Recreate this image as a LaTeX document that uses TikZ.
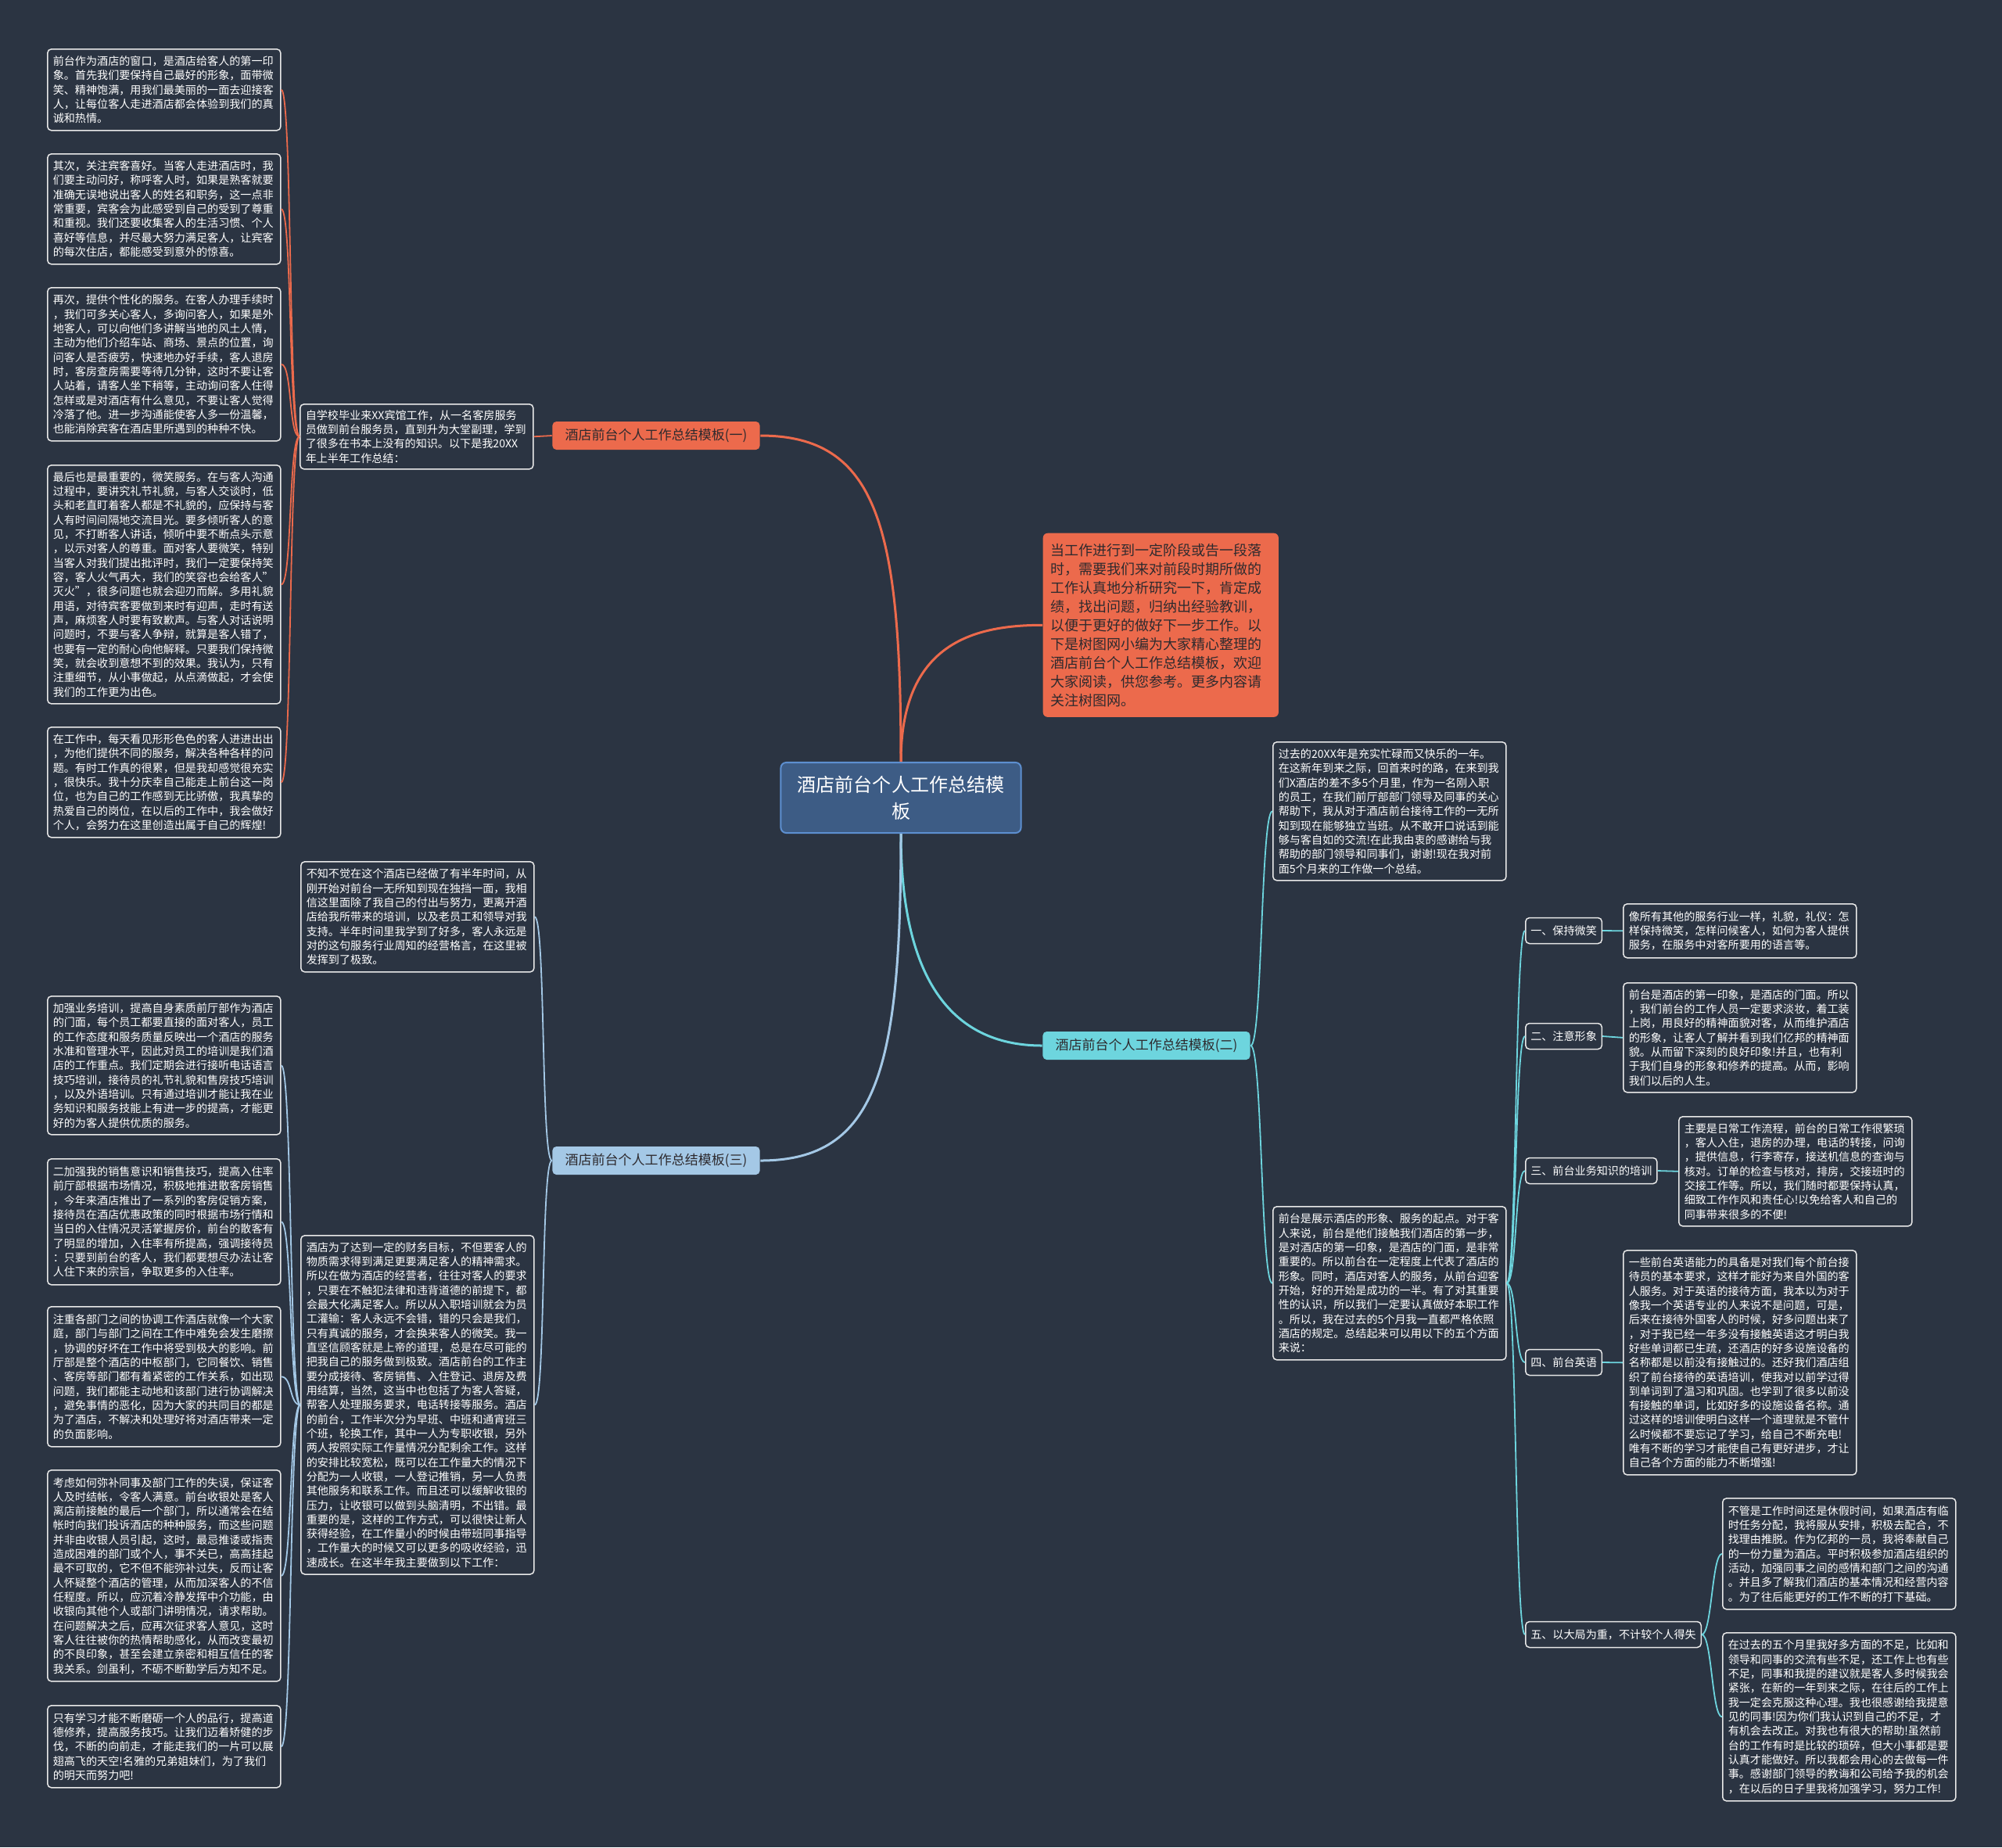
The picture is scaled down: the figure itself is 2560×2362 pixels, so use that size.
\documentclass[tikz,border=0pt]{standalone}
\usepackage{fontspec}
\setmainfont{Noto Sans CJK SC}
\definecolor{bg}{HTML}{2B3442}
\definecolor{orangeC}{HTML}{EC6A4C}
\definecolor{cyanC}{HTML}{6DD5DE}
\definecolor{blueC}{HTML}{A4C8E6}
\definecolor{ctrfill}{HTML}{3D5C85}
\definecolor{ctrdraw}{HTML}{5D8FD0}
\definecolor{darktext}{HTML}{2E2A2E}
\definecolor{leafdraw}{HTML}{E8E8E8}
\newcommand\leaffont{\fontsize{4.01pt}{5.21pt}\selectfont}
\newcommand\introfont{\fontsize{5.12pt}{6.83pt}\selectfont}
\newcommand\labfont{\fontsize{4.84pt}{5.8pt}\selectfont}
\newcommand\ctrfont{\fontsize{6.83pt}{9.67pt}\selectfont}
\tikzset{
  leaf/.style={draw=leafdraw, line width=0.15mm, rounded corners=0.05cm, fill=bg, text=white,
    font=\leaffont, align=left, text width=2.84cm, inner xsep=0.07cm, inner ysep=0pt, anchor=north west},
  sublab/.style={draw=leafdraw, line width=0.15mm, rounded corners=0.05cm, fill=bg, text=white,
    font=\leaffont, inner xsep=0.065cm, inner ysep=0pt, minimum height=0.33cm, anchor=west},
  branch/.style={rounded corners=0.05cm, text=darktext, font=\labfont, minimum width=2.65cm,
    minimum height=0.36cm, inner sep=0pt},
  conO/.style={draw=orangeC, line width=0.18mm},
  conC/.style={draw=cyanC, line width=0.18mm},
  conB/.style={draw=blueC, line width=0.18mm},
}
\begin{document}
\begin{tikzpicture}[x=0.01cm,y=-0.01cm]
\fill[bg] (0,0) rectangle (2560,2362);
\useasboundingbox (0,0) rectangle (2560,2362);

% center
\node[draw=ctrdraw, line width=0.2mm, fill=ctrfill, rounded corners=0.07cm, text=white, font=\ctrfont,
  align=center, text width=2.8cm, minimum width=3.07cm, minimum height=0.9cm, inner sep=0pt] (ctr) at (1152,1020)
  {酒店前台个人工作总结模\\板};

% intro
\node[fill=orangeC, rounded corners=0.06cm, text=darktext, font=\introfont, align=left, text width=2.81cm,
  inner xsep=0.1cm, inner ysep=0pt, minimum height=2.35cm, anchor=north west] (intro) at (1333,681)
  {当工作进行到一定阶段或告一段落\\时，需要我们来对前段时期所做的\\工作认真地分析研究一下，肯定成\\绩，找出问题，归纳出经验教训，\\以便于更好的做好下一步工作。以\\下是树图网小编为大家精心整理的\\酒店前台个人工作总结模板，欢迎\\大家阅读，供您参考。更多内容请\\关注树图网。};

% branch labels
\node[branch, fill=orangeC] (b1) at (839,557) {酒店前台个人工作总结模板(一)};
\node[branch, fill=cyanC] (b2) at (1466,1337) {酒店前台个人工作总结模板(二)};
\node[branch, fill=blueC] (b3) at (839,1484) {酒店前台个人工作总结模板(三)};

% branch 1
\node[leaf, minimum height=0.83cm] (ai) at (383,516)
  {自学校毕业来XX宾馆工作，从一名客房服务\\员做到前台服务员，直到升为大堂副理，学到\\了很多在书本上没有的知识。以下是我20XX\\年上半年工作总结：};
\node[leaf, minimum height=1.04cm] (a1) at (60,62)
  {前台作为酒店的窗口，是酒店给客人的第一印\\象。首先我们要保持自己最好的形象，面带微\\笑、精神饱满，用我们最美丽的一面去迎接客\\人，让每位客人走进酒店都会体验到我们的真\\诚和热情。};
\node[leaf, minimum height=1.41cm] (a2) at (60,196)
  {其次，关注宾客喜好。当客人走进酒店时，我\\们要主动问好，称呼客人时，如果是熟客就要\\准确无误地说出客人的姓名和职务，这一点非\\常重要，宾客会为此感受到自己的受到了尊重\\和重视。我们还要收集客人的生活习惯、个人\\喜好等信息，并尽最大努力满足客人，让宾客\\的每次住店，都能感受到意外的惊喜。};
\node[leaf, minimum height=1.96cm] (a3) at (60,367)
  {再次，提供个性化的服务。在客人办理手续时\\，我们可多关心客人，多询问客人，如果是外\\地客人，可以向他们多讲解当地的风土人情，\\主动为他们介绍车站、商场、景点的位置，询\\问客人是否疲劳，快速地办好手续，客人退房\\时，客房查房需要等待几分钟，这时不要让客\\人站着，请客人坐下稍等，主动询问客人住得\\怎样或是对酒店有什么意见，不要让客人觉得\\冷落了他。进一步沟通能使客人多一份温馨，\\也能消除宾客在酒店里所遇到的种种不快。};
\node[leaf, minimum height=3.05cm] (a4) at (60,594)
  {最后也是最重要的，微笑服务。在与客人沟通\\过程中，要讲究礼节礼貌，与客人交谈时，低\\头和老直盯着客人都是不礼貌的，应保持与客\\人有时间间隔地交流目光。要多倾听客人的意\\见，不打断客人讲话，倾听中要不断点头示意\\，以示对客人的尊重。面对客人要微笑，特别\\当客人对我们提出批评时，我们一定要保持笑\\容，客人火气再大，我们的笑容也会给客人"\\灭火"，很多问题也就会迎刃而解。多用礼貌\\用语，对待宾客要做到来时有迎声，走时有送\\声，麻烦客人时要有致歉声。与客人对话说明\\问题时，不要与客人争辩，就算是客人错了，\\也要有一定的耐心向他解释。只要我们保持微\\笑，就会收到意想不到的效果。我认为，只有\\注重细节，从小事做起，从点滴做起，才会使\\我们的工作更为出色。};
\node[leaf, minimum height=1.41cm] (a5) at (60,929)
  {在工作中，每天看见形形色色的客人进进出出\\，为他们提供不同的服务，解决各种各样的问\\题。有时工作真的很累，但是我却感觉很充实\\，很快乐。我十分庆幸自己能走上前台这一岗\\位，也为自己的工作感到无比骄傲，我真挚的\\热爱自己的岗位，在以后的工作中，我会做好\\个人，会努力在这里创造出属于自己的辉煌!};

% branch 3
\node[leaf, minimum height=1.41cm] (ci) at (384,1101)
  {不知不觉在这个酒店已经做了有半年时间，从\\刚开始对前台一无所知到现在独挡一面，我相\\信这里面除了我自己的付出与努力，更离开酒\\店给我所带来的培训，以及老员工和领导对我\\支持。半年时间里我学到了好多，客人永远是\\对的这句服务行业周知的经营格言，在这里被\\发挥到了极致。};
\node[leaf, minimum height=4.33cm] (cm) at (384,1579)
  {酒店为了达到一定的财务目标，不但要客人的\\物质需求得到满足更要满足客人的精神需求。\\所以在做为酒店的经营者，往往对客人的要求\\，只要在不触犯法律和违背道德的前提下，都\\会最大化满足客人。所以从入职培训就会为员\\工灌输：客人永远不会错，错的只会是我们，\\只有真诚的服务，才会换来客人的微笑。我一\\直坚信顾客就是上帝的道理，总是在尽可能的\\把我自己的服务做到极致。酒店前台的工作主\\要分成接待、客房销售、入住登记、退房及费\\用结算，当然，这当中也包括了为客人答疑，\\帮客人处理服务要求，电话转接等服务。酒店\\的前台，工作半次分为早班、中班和通宵班三\\个班，轮换工作，其中一人为专职收银，另外\\两人按照实际工作量情况分配剩余工作。这样\\的安排比较宽松，既可以在工作量大的情况下\\分配为一人收银，一人登记推销，另一人负责\\其他服务和联系工作。而且还可以缓解收银的\\压力，让收银可以做到头脑清明，不出错。最\\重要的是，这样的工作方式，可以很快让新人\\获得经验，在工作量小的时候由带班同事指导\\，工作量大的时候又可以更多的吸收经验，迅\\速成长。在这半年我主要做到以下工作：};
\node[leaf, minimum height=1.77cm] (c1) at (60,1273)
  {加强业务培训，提高自身素质前厅部作为酒店\\的门面，每个员工都要直接的面对客人，员工\\的工作态度和服务质量反映出一个酒店的服务\\水准和管理水平，因此对员工的培训是我们酒\\店的工作重点。我们定期会进行接听电话语言\\技巧培训，接待员的礼节礼貌和售房技巧培训\\，以及外语培训。只有通过培训才能让我在业\\务知识和服务技能上有进一步的提高，才能更\\好的为客人提供优质的服务。};
\node[leaf, minimum height=1.61cm] (c2) at (60,1481)
  {二加强我的销售意识和销售技巧，提高入住率\\前厅部根据市场情况，积极地推进散客房销售\\，今年来酒店推出了一系列的客房促销方案，\\接待员在酒店优惠政策的同时根据市场行情和\\当日的入住情况灵活掌握房价，前台的散客有\\了明显的增加，入住率有所提高，强调接待员\\：只要到前台的客人，我们都要想尽办法让客\\人住下来的宗旨，争取更多的入住率。};
\node[leaf, minimum height=1.79cm] (c3) at (60,1670)
  {注重各部门之间的协调工作酒店就像一个大家\\庭，部门与部门之间在工作中难免会发生磨擦\\，协调的好坏在工作中将受到极大的影响。前\\厅部是整个酒店的中枢部门，它同餐饮、销售\\、客房等部门都有着紧密的工作关系，如出现\\问题，我们都能主动地和该部门进行协调解决\\，避免事情的恶化，因为大家的共同目的都是\\为了酒店，不解决和处理好将对酒店带来一定\\的负面影响。};
\node[leaf, minimum height=2.70cm] (c4) at (60,1879)
  {考虑如何弥补同事及部门工作的失误，保证客\\人及时结帐，令客人满意。前台收银处是客人\\离店前接触的最后一个部门，所以通常会在结\\帐时向我们投诉酒店的种种服务，而这些问题\\并非由收银人员引起，这时，最忌推诿或指责\\造成困难的部门或个人，事不关已，高高挂起\\最不可取的，它不但不能弥补过失，反而让客\\人怀疑整个酒店的管理，从而加深客人的不信\\任程度。所以，应沉着冷静发挥中介功能，由\\收银向其他个人或部门讲明情况，请求帮助。\\在问题解决之后，应再次征求客人意见，这时\\客人往往被你的热情帮助感化，从而改变最初\\的不良印象，甚至会建立亲密和相互信任的客\\我关系。剑虽利，不砺不断勤学后方知不足。};
\node[leaf, minimum height=1.05cm] (c5) at (60,2180)
  {只有学习才能不断磨砺一个人的品行，提高道\\德修养，提高服务技巧。让我们迈着矫健的步\\伐，不断的向前走，才能走我们的一片可以展\\翅高飞的天空!名雅的兄弟姐妹们，为了我们\\的明天而努力吧!};

% branch 2
\node[leaf, minimum height=1.77cm] (bi) at (1627,948)
  {过去的20XX年是充实忙碌而又快乐的一年。\\在这新年到来之际，回首来时的路，在来到我\\们X酒店的差不多5个月里，作为一名刚入职\\的员工，在我们前厅部部门领导及同事的关心\\帮助下，我从对于酒店前台接待工作的一无所\\知到现在能够独立当班。从不敢开口说话到能\\够与客自如的交流!在此我由衷的感谢给与我\\帮助的部门领导和同事们，谢谢!现在我对前\\面5个月来的工作做一个总结。};
\node[leaf, minimum height=1.96cm] (bm) at (1627,1542)
  {前台是展示酒店的形象、服务的起点。对于客\\人来说，前台是他们接触我们酒店的第一步，\\是对酒店的第一印象，是酒店的门面，是非常\\重要的。所以前台在一定程度上代表了酒店的\\形象。同时，酒店对客人的服务，从前台迎客\\开始，好的开始是成功的一半。有了对其重要\\性的认识，所以我们一定要认真做好本职工作\\。所以，我在过去的5个月我一直都严格依照\\酒店的规定。总结起来可以用以下的五个方面\\来说：};

\node[sublab] (l1) at (1950,1190) {一、保持微笑};
\node[sublab] (l2) at (1950,1325) {二、注意形象};
\node[sublab] (l3) at (1950,1497) {三、前台业务知识的培训};
\node[sublab] (l4) at (1950,1742) {四、前台英语};
\node[sublab] (l5) at (1950,2090) {五、以大局为重，不计较个人得失};

\node[leaf, minimum height=0.69cm] (r1) at (2075,1155)
  {像所有其他的服务行业一样，礼貌，礼仪：怎\\样保持微笑，怎样问候客人，如何为客人提供\\服务，在服务中对客所要用的语言等。};
\node[leaf, minimum height=1.40cm] (r2) at (2075,1256)
  {前台是酒店的第一印象，是酒店的门面。所以\\，我们前台的工作人员一定要求淡妆，着工装\\上岗，用良好的精神面貌对客，从而维护酒店\\的形象，让客人了解并看到我们亿邦的精神面\\貌。从而留下深刻的良好印象!并且，也有利\\于我们自身的形象和修养的提高。从而，影响\\我们以后的人生。};
\node[leaf, minimum height=1.40cm] (r3) at (2146,1427)
  {主要是日常工作流程，前台的日常工作很繁琐\\，客人入住，退房的办理，电话的转接，问询\\，提供信息，行李寄存，接送机信息的查询与\\核对。订单的检查与核对，排房，交接班时的\\交接工作等。所以，我们随时都要保持认真，\\细致工作作风和责任心!以免给客人和自己的\\同事带来很多的不便!};
\node[leaf, minimum height=2.87cm] (r4) at (2075,1598)
  {一些前台英语能力的具备是对我们每个前台接\\待员的基本要求，这样才能好为来自外国的客\\人服务。对于英语的接待方面，我本以为对于\\像我一个英语专业的人来说不是问题，可是，\\后来在接待外国客人的时候，好多问题出来了\\，对于我已经一年多没有接触英语这才明白我\\好些单词都已生疏，还酒店的好多设施设备的\\名称都是以前没有接触过的。还好我们酒店组\\织了前台接待的英语培训，使我对以前学过得\\到单词到了温习和巩固。也学到了很多以前没\\有接触的单词，比如好多的设施设备名称。通\\过这样的培训使明白这样一个道理就是不管什\\么时候都不要忘记了学习，给自己不断充电!\\唯有不断的学习才能使自己有更好进步，才让\\自己各个方面的能力不断增强!};
\node[leaf, minimum height=1.42cm] (r5a) at (2202,1915)
  {不管是工作时间还是休假时间，如果酒店有临\\时任务分配，我将服从安排，积极去配合，不\\找理由推脱。作为亿邦的一员，我将奉献自己\\的一份力量为酒店。平时积极参加酒店组织的\\活动，加强同事之间的感情和部门之间的沟通\\。并且多了解我们酒店的基本情况和经营内容\\。为了往后能更好的工作不断的打下基础。};
\node[leaf, minimum height=2.15cm] (r5b) at (2202,2087)
  {在过去的五个月里我好多方面的不足，比如和\\领导和同事的交流有些不足，还工作上也有些\\不足，同事和我提的建议就是客人多时候我会\\紧张，在新的一年到来之际，在往后的工作上\\我一定会克服这种心理。我也很感谢给我提意\\见的同事!因为你们我认识到自己的不足，才\\有机会去改正。对我也有很大的帮助!虽然前\\台的工作有时是比较的琐碎，但大小事都是要\\认真才能做好。所以我都会用心的去做每一件\\事。感谢部门领导的教诲和公司给予我的机会\\，在以后的日子里我将加强学习，努力工作!};

% connectors from center
\draw[conO, line width=0.3mm] (ctr.north) .. controls +(0,-150) and +(-90,0) .. (intro.west);
\draw[conO, line width=0.3mm] (ctr.north) .. controls +(0,-300) and +(150,0) .. (b1.east);
\draw[conC, line width=0.3mm] (ctr.south) .. controls +(0,180) and +(-120,0) .. (b2.west);
\draw[conB, line width=0.3mm] (ctr.south) .. controls +(0,300) and +(150,0) .. (b3.east);

% branch 1
\draw[conO] (b1.west) -- (ai.east);
\foreach \n in {a1,a2,a3,a4,a5}
  \draw[conO] (ai.west) .. controls +(-14,0) and +(14,0) .. (\n.east);

% branch 3
\foreach \n in {ci,cm}
  \draw[conB] (b3.west) .. controls +(-14,0) and +(14,0) .. (\n.east);
\foreach \n in {c1,c2,c3,c4,c5}
  \draw[conB] (cm.west) .. controls +(-14,0) and +(14,0) .. (\n.east);

% branch 2
\foreach \n in {bi,bm}
  \draw[conC] (b2.east) .. controls +(15,0) and +(-15,0) .. (\n.west);
\foreach \n in {l1,l2,l3,l4,l5}
  \draw[conC] (bm.east) .. controls +(13,0) and +(-13,0) .. (\n.west);
\draw[conC] (l1.east) -- (r1.west);
\draw[conC] (l2.east) -- (r2.west);
\draw[conC] (l3.east) -- (r3.west);
\draw[conC] (l4.east) -- (r4.west);
\draw[conC] (l5.east) .. controls +(13,0) and +(-13,0) .. (r5a.west);
\draw[conC] (l5.east) .. controls +(13,0) and +(-13,0) .. (r5b.west);
\end{tikzpicture}
\end{document}
